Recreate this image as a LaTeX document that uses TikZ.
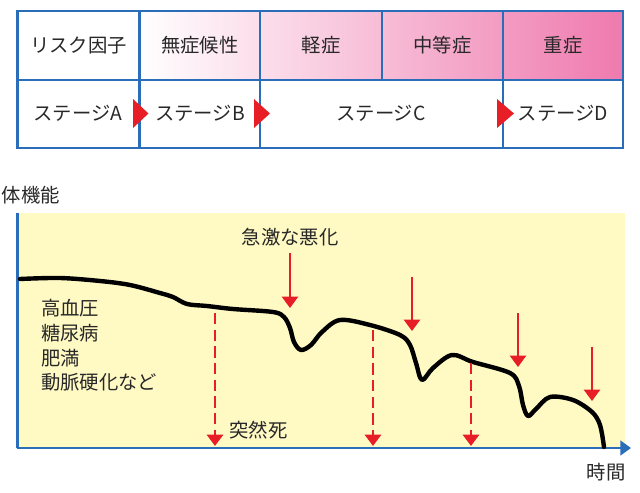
\documentclass[tikz,border=0pt]{standalone}
\usepackage{fontspec}
\setmainfont{Noto Sans CJK JP}
\usetikzlibrary{arrows.meta}
\definecolor{tblue}{RGB}{42,110,185}
\definecolor{tpink}{RGB}{239,122,174}
\definecolor{tyellow}{RGB}{255,249,196}
\definecolor{tred}{RGB}{232,30,38}
\definecolor{ttext}{RGB}{40,40,40}
\tikzset{
  lbl/.style={text=ttext,font=\fontsize{14.5}{17}\selectfont,inner sep=0pt},
  lblL/.style={lbl,anchor=west},
  redarrow/.style={draw=tred,line width=1.8pt,-{Triangle[width=12pt,length=8.5pt]}},
  reddash/.style={draw=tred,line width=2.2pt,dash pattern=on 8.5pt off 4pt,-{Triangle[width=12pt,length=8.5pt]}},
  stagetri/.style={fill=tred},
}
\begin{document}
\begin{tikzpicture}[x=0.75pt,y=-0.75pt]
\useasboundingbox (0,0) rectangle (640,493);
% table
\shade[left color=white,right color=tpink] (139.5,11) rectangle (623,80);
\draw[tblue,line width=1.6pt] (139.5,11) -- (139.5,148);
\draw[tblue,line width=1.6pt] (260,11) -- (260,148);
\draw[tblue,line width=1.6pt] (382,11) -- (382,80);
\draw[tblue,line width=1.6pt] (503,11) -- (503,148);
\draw[tblue,line width=1.6pt] (17.5,80) -- (623,80);
\draw[tblue,line width=2.2pt] (17.5,11) rectangle (623,148);
\node[lbl] (r1) at (78.5,45.5) {リスク因子};
\node[lbl] (r2) at (200,45.5) {無症候性};
\node[lbl] (r3) at (321,45.5) {軽症};
\node[lbl] (r4) at (442.5,45.5) {中等症};
\node[lbl] (r5) at (563,45.5) {重症};
\node[lbl] (sA) at (78,113) {ステージA};
\node[lbl] (sB) at (200,113) {ステージB};
\node[lbl] (sC) at (381,113) {ステージC};
\node[lbl] (sD) at (563,113) {ステージD};
\fill[stagetri] (133,99) -- (148.5,113.5) -- (133,128) -- cycle;
\fill[stagetri] (254,99) -- (270,113.5) -- (254,128) -- cycle;
\fill[stagetri] (497,99) -- (514,113.5) -- (497,128) -- cycle;
% plot
\fill[tyellow] (17.5,213) rectangle (625,448);
\draw[tblue,line width=2.2pt] (17.5,213) -- (17.5,448);
\coordinate (xo) at (16.5,448);
\coordinate (xe) at (631,448);
\draw[tblue,line width=2.2pt,-{Triangle[width=11pt,length=8pt]}] (xo) -- (xe);
\node[lbl] (yl) at (31,195) {体機能};
\node[lbl] (xl) at (606,472) {時間};
% curve
\draw[black,line width=3.3pt,line cap=round,line join=round] plot[smooth,tension=0.55] coordinates {
(20,279) (60,278) (100,281) (130,285) (160,293) (173,297) (187,304) (207,306) (233,309) (273,312) (284,317) (290,328) (294,342) (301,350) (311,345) (322,332) (340,320) (370,325) (400,335) (410,345) (416,363) (422,380) (433,368) (452,355) (473,362) (510,373) (519,386) (523,405) (528,416) (536,409) (550,397) (573,400) (592,412) (600,425) (604,447)};
% arrows
\node[lbl] (kyu) at (290,237) {急激な悪化};
\coordinate (a1s) at (290,253); \coordinate (a1e) at (290,308);
\coordinate (a2s) at (412,277); \coordinate (a2e) at (412,331);
\coordinate (a3s) at (518,313); \coordinate (a3e) at (518,367);
\coordinate (a4s) at (592,347); \coordinate (a4e) at (592,401);
\draw[redarrow] (a1s) -- (a1e);
\draw[redarrow] (a2s) -- (a2e);
\draw[redarrow] (a3s) -- (a3e);
\draw[redarrow] (a4s) -- (a4e);
\coordinate (d1s) at (215,313); \coordinate (d1e) at (215,446);
\coordinate (d2s) at (373,330); \coordinate (d2e) at (373,446);
\coordinate (d3s) at (471,363); \coordinate (d3e) at (471,446);
\draw[reddash] (d1s) -- (d1e);
\draw[reddash] (d2s) -- (d2e);
\draw[reddash] (d3s) -- (d3e);
\node[lbl] (tot) at (258.5,430) {突然死};
\node[lblL] (f1) at (41,308) {高血圧};
\node[lblL] (f2) at (41,333) {糖尿病};
\node[lblL] (f3) at (41,358) {肥満};
\node[lblL] (f4) at (41,382) {動脈硬化など};
\end{tikzpicture}
\end{document}
